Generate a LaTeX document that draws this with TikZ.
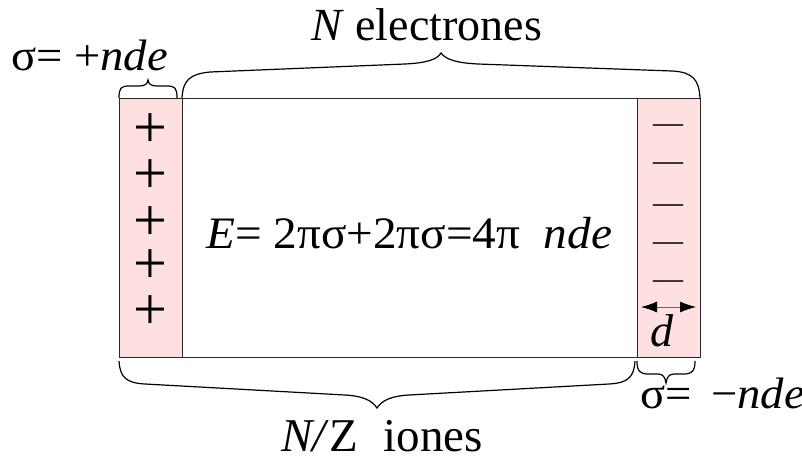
\documentclass[tikz,border=0pt]{standalone}
\usepackage{fontspec}
\setmainfont{Liberation Serif}
\usetikzlibrary{arrows.meta}
\definecolor{strip}{RGB}{255,224,224}
\definecolor{edge}{RGB}{40,40,40}
\begin{document}
\begin{tikzpicture}[x=1pt,y=-1pt,
  boxline/.style={draw=edge, line width=1.4pt},
  bracestyle/.style={draw=black, line width=1.2pt},
  lbl/.style={inner sep=0pt, anchor=base west},
  sign/.style={inner sep=0pt, anchor=center}]
\useasboundingbox (0,0) rectangle (802,461);
\fill[white] (0,0) rectangle (802,461);
% body
\node[boxline, minimum width=581pt, minimum height=259pt, inner sep=0pt, anchor=north west] (body) at (119,98) {};
\node[boxline, fill=strip, minimum width=63pt, minimum height=259pt, inner sep=0pt, anchor=north west] (lstrip) at (119,98) {};
\node[boxline, fill=strip, minimum width=63pt, minimum height=259pt, inner sep=0pt, anchor=north west] (rstrip) at (637,98) {};
% plus signs
\foreach \i/\y in {1/131,2/177,3/224,4/267,5/313}
  \node[sign, font=\fontsize{60}{60}\selectfont] (p\i) at (150,\y) {+};
% minus signs
\foreach \i/\y in {1/129,2/167,3/209,4/247,5/285}
  \node[sign, font=\fontsize{30}{30}\selectfont] (m\i) at (668,\y) {—};
% d arrow
\coordinate (dl) at (641,307);
\coordinate (dr) at (696,307);
\draw[line width=0.9pt, draw=black!60, {Latex[length=16pt,width=11pt,color=black]}-{Latex[length=16pt,width=11pt,color=black]}] (dl) -- (dr);
\node[lbl, font=\fontsize{46}{46}\selectfont] (dlab) at (650,346) {\textit{d}};
% braces
\draw[bracestyle] (119,98) .. controls (119,88) and (121,86) .. (129,86) -- (139,86) .. controls (145,86) and (147.5,84) .. (148,80) .. controls (148.5,84) and (151,86) .. (157,86) -- (167,86) .. controls (175,86) and (177,88) .. (177,98);
\draw[bracestyle] (182,98) .. controls (183,80) and (190,74) .. (210,72) -- (405,64) .. controls (425,63) and (437,60) .. (441,53) .. controls (446,60) and (458,63) .. (478,64) -- (672,71) .. controls (693,72) and (699,80) .. (700,98);
\draw[bracestyle] (119,361) .. controls (120,378) and (127,383) .. (145,384) -- (345,395) .. controls (362,396) and (372,400) .. (377,408) .. controls (382,400) and (392,396) .. (409,395) -- (609,384) .. controls (627,383) and (634,378) .. (635,361);
\draw[bracestyle] (637,361) .. controls (637,371) and (640,374) .. (648,374) -- (658,374) .. controls (663,374) and (665,377) .. (666,383) .. controls (667,377) and (669,374) .. (674,374) -- (684,374) .. controls (692,374) and (695,371) .. (695,361);
% labels
\node[lbl, font=\fontsize{44}{44}\selectfont] (sigtop) at (11,70) {\scalebox{1.06}[1]{σ= +\textit{nde}}};
\node[lbl, font=\fontsize{46}{46}\selectfont] (ntop) at (311,40) {\textit{N} electrones};
\node[lbl, font=\fontsize{45}{45}\selectfont] (eq) at (206,248) {\scalebox{1.05}[1]{\textit{E}= 2πσ+2πσ=4π\ \ \textit{nde}}};
\node[lbl, font=\fontsize{47}{47}\selectfont] (nz) at (281,451) {\textit{N/}Z\hspace{0.55em}iones};
\node[lbl, font=\fontsize{44}{44}\selectfont] (sigbot) at (640,408) {\scalebox{1.06}[1]{σ= \,−\textit{nde}}};
\end{tikzpicture}
\end{document}
